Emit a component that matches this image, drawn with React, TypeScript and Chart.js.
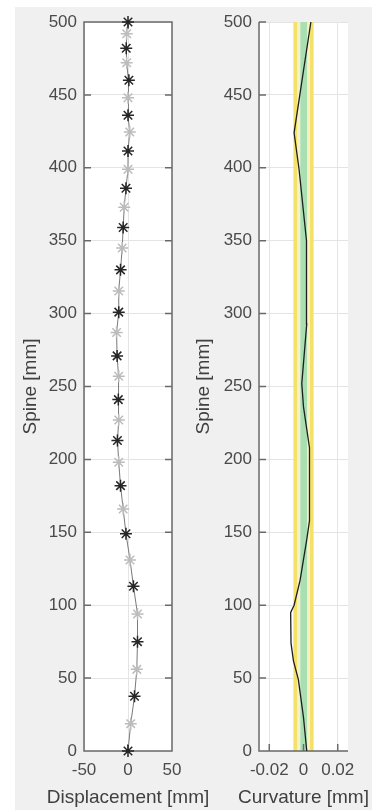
import React, { useEffect, useRef } from "react";
import { Chart, registerables } from "chart.js";

Chart.register(...registerables);

const FONT = "'Liberation Sans', Arial, Helvetica, sans-serif";

// ---- Left panel: marker displacement along the spine ----
const markerSpine = [0, 18.75, 37.5, 56, 75, 94, 113, 131, 149, 166, 182, 198, 213, 227, 241, 257, 271, 287, 301, 315.5, 330, 345, 359, 373, 386, 399, 411.5, 424.5, 436, 448, 460, 472, 482, 492, 500];
const displacement = [0, 3.1, 7.4, 10, 10.8, 10.8, 6.2, 2.3, -2.3, -5.5, -8.5, -10.5, -12, -10.5, -11, -10.5, -12.4, -13, -10.5, -10.5, -8.5, -6.6, -5.5, -4.3, -2.3, 0, 0, 2, 0, 0, 1, -1.5, -2, -1.5, 0];
const dispTicks = [-50, 0, 50];

// ---- Right panel: curvature along the spine ----
const curvSpine = [0, 23, 49, 62, 74, 95, 100, 117, 145, 158, 208, 236, 252, 293, 335, 350, 399, 424, 500];
const curvature = [0.0019, 0.0, -0.003, -0.0059, -0.0073, -0.0075, -0.0055, -0.002, 0.0019, 0.0035, 0.0035, 0.0, -0.001, 0.0019, 0.002, 0.0015, -0.0026, -0.0055, 0.0043];
const curvTicks = [-0.02, 0, 0.02];

// threshold bands (curvature limits)
const bandLo = [-0.0059, -0.0035, -0.0019, 0.0023, 0.0038];
const bandHi = [-0.0035, -0.0019, 0.0023, 0.0038, 0.0059];
const bandColors = ["#f3e16a", "#f7f1c6", "#a9dfb1", "#f7f1c6", "#f3e16a"];

const spineTicks = [0, 50, 100, 150, 200, 250, 300, 350, 400, 450, 500];

const TICK_COLOR = "#4a4a4a";
const TITLE_COLOR = "#404040";
const GRID_COLOR = "#e4e4e4";
const AXIS_COLOR = "#6a6a6a";

const framePlugin = {
  id: "frame",
  beforeDatasetsDraw(chart: any, _a: any, opts: any) {
    const { ctx, chartArea: a, scales } = chart;
    const xs = scales.x;
    const ys = scales.y;
    ctx.save();
    if (opts.bands) {
      const { lo, hi, colors } = opts.bands;
      for (let i = 0; i < lo.length; i++) {
        const p1 = xs.getPixelForValue(lo[i]);
        const p2 = xs.getPixelForValue(hi[i]);
        ctx.fillStyle = colors[i];
        ctx.fillRect(p1, a.top, p2 - p1, a.bottom - a.top);
      }
    }
    ctx.strokeStyle = AXIS_COLOR;
    ctx.lineWidth = 1.5;
    const len = 7;
    ctx.beginPath();
    if (opts.box) {
      ctx.rect(a.left, a.top, a.right - a.left, a.bottom - a.top);
    } else {
      ctx.moveTo(a.left, a.top);
      ctx.lineTo(a.left, a.bottom);
      ctx.lineTo(a.right, a.bottom);
    }
    for (const t of ys.ticks) {
      const p = ys.getPixelForValue(t.value);
      ctx.moveTo(a.left, p);
      ctx.lineTo(a.left + len, p);
      if (opts.box) {
        ctx.moveTo(a.right, p);
        ctx.lineTo(a.right - len, p);
      }
    }
    for (const t of xs.ticks) {
      const p = xs.getPixelForValue(t.value);
      ctx.moveTo(p, a.bottom);
      ctx.lineTo(p, a.bottom - len);
      if (opts.box) {
        ctx.moveTo(p, a.top);
        ctx.lineTo(p, a.top + len);
      }
    }
    ctx.stroke();
    ctx.restore();
  },
  afterDraw(chart: any, _a: any, opts: any) {
    if (!opts.xTitle) return;
    const { ctx, chartArea: a } = chart;
    ctx.save();
    ctx.fillStyle = TITLE_COLOR;
    ctx.font = `19px ${FONT}`;
    ctx.textAlign = "center";
    ctx.textBaseline = "middle";
    ctx.fillText(opts.xTitle, (a.left + a.right) / 2, a.bottom + 47);
    ctx.restore();
  },
};

const bgPlugin = {
  id: "plotBg",
  beforeDraw(chart: any) {
    const { ctx, chartArea: a } = chart;
    ctx.save();
    ctx.fillStyle = "#ffffff";
    ctx.fillRect(a.left, a.top, a.right - a.left, a.bottom - a.top);
    ctx.restore();
  },
};

function makeScales(xMin: number, xMax: number, xTickVals: number[], yAxisWidth: number) {
  return {
    x: {
      type: "linear" as const,
      position: "bottom" as const,
      min: xMin,
      max: xMax,
      afterBuildTicks: (s: any) => {
        s.ticks = xTickVals.map((v) => ({ value: v }));
      },
      afterFit: (s: any) => {
        s.height = 59;
      },
      grid: { color: GRID_COLOR, lineWidth: 1, drawTicks: false },
      border: { display: false },
      ticks: {
        color: TICK_COLOR,
        font: { family: FONT, size: 17 },
        padding: 9,
        maxRotation: 0,
        autoSkip: false,
        callback: (v: any) => String(v),
      },
      title: { display: false },
    },
    y: {
      type: "linear" as const,
      position: "left" as const,
      min: 0,
      max: 500,
      afterBuildTicks: (s: any) => {
        s.ticks = spineTicks.map((v) => ({ value: v }));
      },
      afterFit: (s: any) => {
        s.width = yAxisWidth;
      },
      grid: { color: GRID_COLOR, lineWidth: 1, drawTicks: false },
      border: { display: false },
      ticks: {
        color: TICK_COLOR,
        font: { family: FONT, size: 17 },
        padding: 7,
        autoSkip: false,
      },
      title: {
        display: true,
        text: "Spine [mm]",
        color: TITLE_COLOR,
        font: { family: FONT, size: 19 },
        padding: { top: 4, bottom: 0 },
      },
    },
  };
}

export default function App() {
  const leftRef = useRef<HTMLCanvasElement | null>(null);
  const rightRef = useRef<HTMLCanvasElement | null>(null);

  useEffect(() => {
    const leftPts = markerSpine.map((y, i) => ({ x: displacement[i], y }));
    const markerColors = markerSpine.map((_, i) => (i % 2 === 0 ? "#262626" : "#bcbcbc"));
    const left = new Chart(leftRef.current as HTMLCanvasElement, {
      type: "scatter",
      data: {
        datasets: [
          {
            data: leftPts,
            showLine: true,
            borderColor: "#7a7a7a",
            borderWidth: 1,
            pointStyle: "star",
            pointRadius: 6,
            pointBorderWidth: 1.5,
            pointBorderColor: markerColors,
            pointBackgroundColor: markerColors,
            clip: false as any,
          },
        ],
      },
      options: {
        responsive: false,
        animation: false,
        layout: { padding: { left: 15, right: 200, top: 22, bottom: 0 } },
        plugins: {
          legend: { display: false },
          tooltip: { enabled: false },
          frame: { box: true, xTitle: "Displacement [mm]" },
        } as any,
        scales: makeScales(-50, 50, dispTicks, 69) as any,
      },
      plugins: [bgPlugin, framePlugin],
    });

    const rightPts = curvSpine.map((y, i) => ({ x: curvature[i], y }));
    const right = new Chart(rightRef.current as HTMLCanvasElement, {
      type: "scatter",
      data: {
        datasets: [
          {
            data: rightPts,
            showLine: true,
            borderColor: "#1e1e1e",
            borderWidth: 1.3,
            pointRadius: 0,
            clip: false as any,
          },
        ],
      },
      options: {
        responsive: false,
        animation: false,
        layout: { padding: { left: 188, right: 24, top: 22, bottom: 0 } },
        plugins: {
          legend: { display: false },
          tooltip: { enabled: false },
          frame: { box: false, xTitle: "Curvature [mm]", bands: { lo: bandLo, hi: bandHi, colors: bandColors } },
        } as any,
        scales: makeScales(-0.026, 0.026, curvTicks, 71) as any,
      },
      plugins: [bgPlugin, framePlugin],
    });

    return () => {
      left.destroy();
      right.destroy();
    };
  }, []);

  const canvasStyle: React.CSSProperties = { position: "absolute", left: 0, top: 0 };
  return (
    <div style={{ position: "absolute", left: 0, top: 0, width: 372, height: 810, background: "#ffffff", overflow: "hidden" }}>
      <div style={{ position: "absolute", left: 15, top: 7, right: 0, bottom: 0, background: "#f0f0f0" }} />
      <canvas ref={leftRef} width={372} height={810} style={canvasStyle} />
      <canvas ref={rightRef} width={372} height={810} style={canvasStyle} />
    </div>
  );
}
